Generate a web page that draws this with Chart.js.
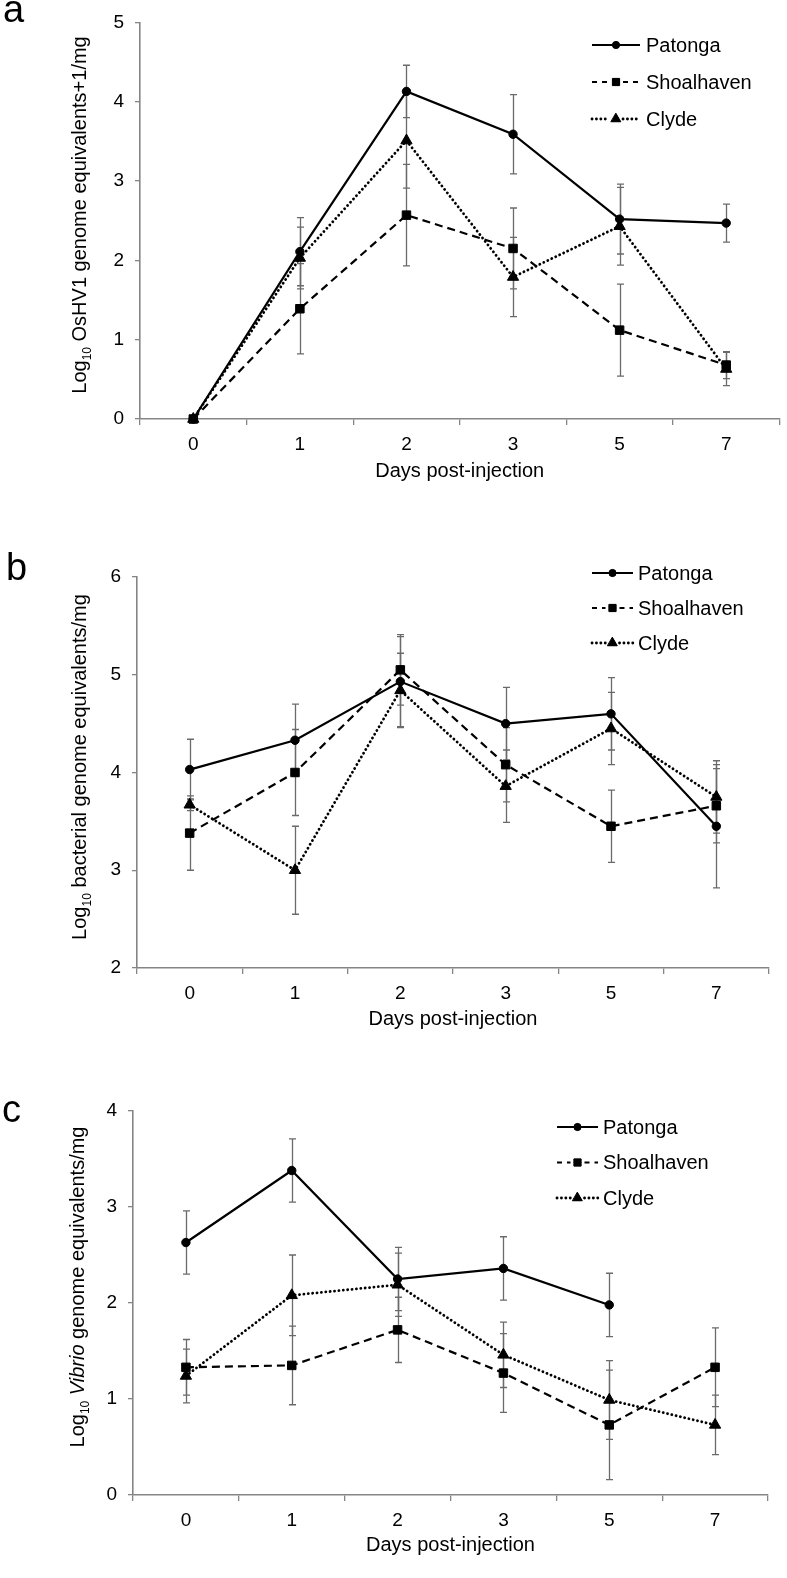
<!DOCTYPE html>
<html>
<head>
<meta charset="utf-8">
<title>OsHV-1, bacteria and Vibrio after injection</title>
<script src="https://cdn.jsdelivr.net/npm/chart.js@4.4.1/dist/chart.umd.min.js"></script>
<style>
  html, body { margin: 0; padding: 0; background: #fff; }
  #page { position: relative; width: 787px; height: 1578px; overflow: hidden; }
  canvas { position: absolute; left: 0; }
</style>
</head>
<body>
<div id="page">
  <canvas id="chartA" width="787" height="520" style="top:0"></canvas>
  <canvas id="chartB" width="787" height="520" style="top:520px"></canvas>
  <canvas id="chartC" width="787" height="538" style="top:1040px"></canvas>
</div>
<script>
"use strict";

const days = ["0", "1", "2", "3", "5", "7"];

// (a) OsHV-1, log10 genome equivalents + 1 per mg
const oshvPatonga = [0, 2.11, 4.13, 3.59, 2.52, 2.47];
const oshvPatongaErr = [0, 0.43, 0.33, 0.50, 0.44, 0.24];
const oshvShoalhaven = [0, 1.39, 2.57, 2.15, 1.12, 0.68];
const oshvShoalhavenErr = [0, 0.57, 0.64, 0.51, 0.58, 0.17];
const oshvClyde = [0, 2.03, 3.51, 1.79, 2.43, 0.63];
const oshvClydeErr = [0, 0.39, 0.60, 0.50, 0.49, 0.21];

// (b) total bacteria, log10 genome equivalents per mg
const bactPatonga = [4.03, 4.33, 4.93, 4.50, 4.60, 3.45];
const bactPatongaErr = [0.31, 0.37, 0.46, 0.37, 0.37, 0.63];
const bactShoalhaven = [3.38, 4.00, 5.05, 4.08, 3.45, 3.66];
const bactShoalhavenErr = [0.38, 0.44, 0.36, 0.38, 0.37, 0.38];
const bactClyde = [3.67, 3.00, 4.84, 3.86, 4.45, 3.75];
const bactClydeErr = [0.06, 0.45, 0.38, 0.37, 0.37, 0.37];

// (c) Vibrio, log10 genome equivalents per mg (no Patonga value at day 7)
const vibPatonga = [2.63, 3.38, 2.25, 2.36, 1.98, null];
const vibPatongaErr = [0.33, 0.33, 0.33, 0.33, 0.33, null];
const vibShoalhaven = [1.33, 1.35, 1.72, 1.27, 0.73, 1.33];
const vibShoalhavenErr = [0.29, 0.41, 0.34, 0.41, 0.57, 0.41];
const vibClyde = [1.24, 2.08, 2.19, 1.46, 0.99, 0.73];
const vibClydeErr = [0.28, 0.42, 0.33, 0.34, 0.41, 0.31];

const FONT = "'Liberation Sans', Arial, Helvetica, sans-serif";
const AXIS = "#858585";
const ERR = "#6a6a6a";
const TEXT_SIZE = 20;
const TICK_SIZE = 19;

const STYLES = {
  Patonga: { dash: [], cap: "butt", width: 2.2, pointStyle: "circle", radius: 4.2 },
  Shoalhaven: { dash: [8, 5], cap: "butt", width: 2.2, pointStyle: "rect", radius: 6 },
  Clyde: { dash: [0.1, 4.3], cap: "round", width: 2.8, pointStyle: "triangle", radius: 6.5 }
};

Chart.defaults.font.family = FONT;
Chart.defaults.color = "#000";

const errorBarPlugin = {
  id: "errorBars",
  beforeDatasetsDraw(chart) {
    const ctx = chart.ctx;
    const yScale = chart.scales.y;
    ctx.save();
    ctx.strokeStyle = ERR;
    ctx.lineWidth = 1.3;
    chart.data.datasets.forEach((ds, i) => {
      const meta = chart.getDatasetMeta(i);
      ds.errors.forEach((err, j) => {
        const v = ds.data[j];
        if (v == null || !err) return;
        const x = Math.round(meta.data[j].x) + 0.5;
        const top = yScale.getPixelForValue(v + err);
        const bottom = yScale.getPixelForValue(v - err);
        ctx.beginPath();
        ctx.moveTo(x, top);
        ctx.lineTo(x, bottom);
        ctx.moveTo(x - 3.5, top);
        ctx.lineTo(x + 3.5, top);
        ctx.moveTo(x - 3.5, bottom);
        ctx.lineTo(x + 3.5, bottom);
        ctx.stroke();
      });
    });
    ctx.restore();
  }
};

function drawRichVertical(ctx, parts, cx, cy, size) {
  const fontFor = (p) => `${p.italic ? "italic " : ""}${p.sub ? Math.round(size * 0.62) : size}px ${FONT}`;
  let total = 0;
  parts.forEach((p) => {
    ctx.font = fontFor(p);
    p.w = ctx.measureText(p.text).width;
    total += p.w;
  });
  ctx.save();
  ctx.translate(cx, cy);
  ctx.rotate(-Math.PI / 2);
  ctx.textAlign = "left";
  ctx.textBaseline = "alphabetic";
  let x = -total / 2;
  const base = size * 0.36;
  parts.forEach((p) => {
    ctx.font = fontFor(p);
    ctx.fillText(p.text, x, p.sub ? base + size * 0.22 : base);
    x += p.w;
  });
  ctx.restore();
}

const panelTextPlugin = {
  id: "panelText",
  afterDraw(chart, args, opts) {
    const ctx = chart.ctx;
    const area = chart.chartArea;
    ctx.save();
    ctx.fillStyle = "#000";
    ctx.textBaseline = "alphabetic";

    ctx.font = `38px ${FONT}`;
    ctx.textAlign = "left";
    ctx.fillText(opts.letter, opts.letterX, opts.letterY);

    ctx.font = `${TEXT_SIZE}px ${FONT}`;
    ctx.textAlign = "center";
    ctx.fillText("Days post-injection", (area.left + area.right) / 2, area.bottom + opts.xTitleGap);

    drawRichVertical(ctx, opts.yTitle, opts.yTitleX, opts.yTitleY, TEXT_SIZE);

    // legend: line sample with marker, then the name
    chart.data.datasets.forEach((ds, i) => {
      const st = STYLES[ds.label];
      const y = opts.legendY + i * opts.legendGap;
      const x0 = opts.legendX0;
      const x1 = opts.legendX1;
      const mid = (x0 + x1) / 2;
      ctx.save();
      ctx.strokeStyle = "#000";
      ctx.lineWidth = st.width;
      ctx.lineCap = st.cap;
      ctx.setLineDash(ds.label === "Shoalhaven" ? [5, 5] : st.dash);
      ctx.beginPath();
      if (st.dash.length) {
        ctx.moveTo(x0, y);
        ctx.lineTo(mid - 7, y);
        ctx.moveTo(mid + 7, y);
        ctx.lineTo(x1, y);
      } else {
        ctx.moveTo(x0, y);
        ctx.lineTo(x1, y);
      }
      ctx.stroke();
      ctx.setLineDash([]);
      ctx.fillStyle = "#000";
      ctx.lineWidth = 1;
      Chart.helpers.drawPoint(ctx, { pointStyle: st.pointStyle, radius: st.radius * 0.85, rotation: 0, borderWidth: 1 }, mid, y);
      ctx.fill();
      ctx.restore();

      ctx.font = `${TEXT_SIZE}px ${FONT}`;
      ctx.textAlign = "left";
      ctx.textBaseline = "middle";
      ctx.fillText(ds.label, opts.legendTextX, y + 1);
    });
    ctx.restore();
  }
};

function buildDataset(name, values, errors) {
  const st = STYLES[name];
  return {
    label: name,
    data: values,
    errors,
    borderColor: "#000",
    backgroundColor: "#000",
    borderWidth: st.width,
    borderDash: st.dash,
    borderCapStyle: st.cap,
    pointStyle: st.pointStyle,
    pointRadius: st.radius,
    pointBackgroundColor: "#000",
    pointBorderColor: "#000",
    pointBorderWidth: 1,
    tension: 0,
    spanGaps: false,
    clip: false
  };
}

function createPanel(canvasId, datasets, yMin, yMax, layout, text) {
  const canvas = document.getElementById(canvasId);
  return new Chart(canvas, {
    type: "line",
    data: { labels: days, datasets },
    options: {
      responsive: false,
      animation: false,
      events: [],
      layout: { padding: { left: 0, right: layout.right, top: layout.top, bottom: 0 } },
      plugins: {
        legend: { display: false },
        tooltip: { enabled: false },
        panelText: text
      },
      scales: {
        x: {
          type: "category",
          offset: true,
          grid: { offset: true, drawOnChartArea: false, drawTicks: true, tickLength: 6, color: AXIS, lineWidth: 1.3 },
          border: { color: AXIS, width: 1.6 },
          ticks: { color: "#000", font: { size: TICK_SIZE }, padding: 8, maxRotation: 0, autoSkip: false },
          afterFit: (s) => { s.height = layout.xHeight; }
        },
        y: {
          min: yMin,
          max: yMax,
          grid: { drawOnChartArea: false, drawTicks: true, tickLength: 5, color: AXIS, lineWidth: 1.3 },
          border: { color: AXIS, width: 1.6 },
          ticks: { stepSize: 1, color: "#000", font: { size: TICK_SIZE }, padding: 11 },
          afterFit: (s) => { s.width = layout.yWidth; }
        }
      }
    },
    plugins: [errorBarPlugin, panelTextPlugin]
  });
}

createPanel("chartA", [
  buildDataset("Patonga", oshvPatonga, oshvPatongaErr),
  buildDataset("Shoalhaven", oshvShoalhaven, oshvShoalhavenErr),
  buildDataset("Clyde", oshvClyde, oshvClydeErr)
], 0, 5,
{ yWidth: 140, right: 4, top: 13, xHeight: 101 },
{
  letter: "a", letterX: 3, letterY: 22,
  xTitleGap: 58,
  yTitle: [{ text: "Log" }, { text: "10", sub: true }, { text: " OsHV1 genome equivalents+1/mg" }],
  yTitleX: 79, yTitleY: 215,
  legendX0: 592, legendX1: 640, legendTextX: 646, legendY: 45, legendGap: 37
});

createPanel("chartB", [
  buildDataset("Patonga", bactPatonga, bactPatongaErr),
  buildDataset("Shoalhaven", bactShoalhaven, bactShoalhavenErr),
  buildDataset("Clyde", bactClyde, bactClydeErr)
], 2, 6,
{ yWidth: 137, right: 18, top: 57, xHeight: 72 },
{
  letter: "b", letterX: 6, letterY: 60,
  xTitleGap: 57,
  yTitle: [{ text: "Log" }, { text: "10", sub: true }, { text: " bacterial genome equivalents/mg" }],
  yTitleX: 79, yTitleY: 247,
  legendX0: 592, legendX1: 633, legendTextX: 638, legendY: 53, legendGap: 35
});

createPanel("chartC", [
  buildDataset("Patonga", vibPatonga, vibPatongaErr),
  buildDataset("Shoalhaven", vibShoalhaven, vibShoalhavenErr),
  buildDataset("Clyde", vibClyde, vibClydeErr)
], 0, 4,
{ yWidth: 133, right: 19, top: 71, xHeight: 83 },
{
  letter: "c", letterX: 2, letterY: 82,
  xTitleGap: 56,
  yTitle: [{ text: "Log" }, { text: "10", sub: true }, { text: " " }, { text: "Vibrio", italic: true }, { text: " genome equivalents/mg" }],
  yTitleX: 77, yTitleY: 247,
  legendX0: 557, legendX1: 598, legendTextX: 603, legendY: 87, legendGap: 35.5
});
</script>
</body>
</html>
